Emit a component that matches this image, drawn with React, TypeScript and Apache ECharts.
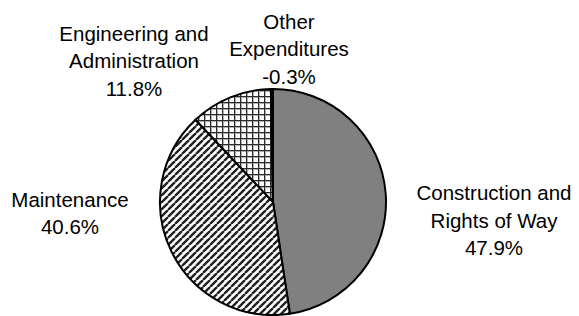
import React, { useEffect, useRef } from 'react';
import * as echarts from 'echarts';

// ---- data ----
const categories = [
  'Construction and\nRights of Way',
  'Maintenance',
  'Engineering and\nAdministration',
  'Other\nExpenditures',
];
const shares = [47.9, 40.6, 11.8, -0.3];

// ---- layout (label anchor positions, px) ----
const labelAnchors: [number, number][] = [
  [494, 220],
  [70, 213],
  [134, 60.5],
  [289, 48.5],
];

function hatchCanvas(): HTMLCanvasElement {
  const s = 7;
  const c = document.createElement('canvas');
  c.width = s;
  c.height = s;
  const ctx = c.getContext('2d')!;
  ctx.fillStyle = '#ffffff';
  ctx.fillRect(0, 0, s, s);
  ctx.strokeStyle = '#222222';
  ctx.lineWidth = 2.4;
  ctx.beginPath();
  for (const o of [-s, 0, s]) {
    ctx.moveTo(o, s);
    ctx.lineTo(o + s, 0);
  }
  ctx.stroke();
  return c;
}

function gridCanvas(): HTMLCanvasElement {
  const s = 6;
  const c = document.createElement('canvas');
  c.width = s;
  c.height = s;
  const ctx = c.getContext('2d')!;
  ctx.fillStyle = '#ffffff';
  ctx.fillRect(0, 0, s, s);
  ctx.fillStyle = '#b0b0b0';
  ctx.fillRect(0, 1, s, 1);
  ctx.fillRect(1, 0, 1, s);
  ctx.fillStyle = '#2a2a2a';
  ctx.fillRect(0, 0, s, 1);
  ctx.fillRect(0, 0, 1, s);
  return c;
}

export default function App() {
  const ref = useRef<HTMLDivElement>(null);

  useEffect(() => {
    if (!ref.current) return;
    const chart = echarts.init(ref.current, undefined, { renderer: 'svg' });
    const fills: any[] = [
      '#808080',
      { image: hatchCanvas(), repeat: 'repeat' },
      { image: gridCanvas(), repeat: 'repeat' },
      '#000000',
    ];
    chart.setOption({
      animation: false,
      backgroundColor: '#ffffff',
      series: [
        {
          type: 'pie',
          center: [273, 202],
          radius: 113,
          startAngle: 90,
          clockwise: true,
          silent: true,
          avoidLabelOverlap: false,
          minShowLabelAngle: 0,
          itemStyle: { borderColor: '#000000', borderWidth: 2 },
          label: {
            show: true,
            position: 'outside',
            color: '#000000',
            fontFamily: '"Liberation Sans", Arial, sans-serif',
            fontSize: 20.5,
            lineHeight: 27.5,
            align: 'center',
            formatter: (p: any) =>
              `${categories[p.dataIndex]}\n${shares[p.dataIndex].toFixed(1)}%`,
          },
          labelLine: { show: false },
          labelLayout: (p: any) => ({
            x: labelAnchors[p.dataIndex][0],
            y: labelAnchors[p.dataIndex][1],
            align: 'center',
            verticalAlign: 'middle',
          }),
          data: categories.map((name, i) => ({
            name,
            value: Math.abs(shares[i]),
            itemStyle: { color: fills[i] },
          })),
        },
      ],
    });
    return () => chart.dispose();
  }, []);

  return (
    <div
      ref={ref}
      style={{ position: 'fixed', left: 0, top: 0, width: 579, height: 316, background: '#fff' }}
    />
  );
}
